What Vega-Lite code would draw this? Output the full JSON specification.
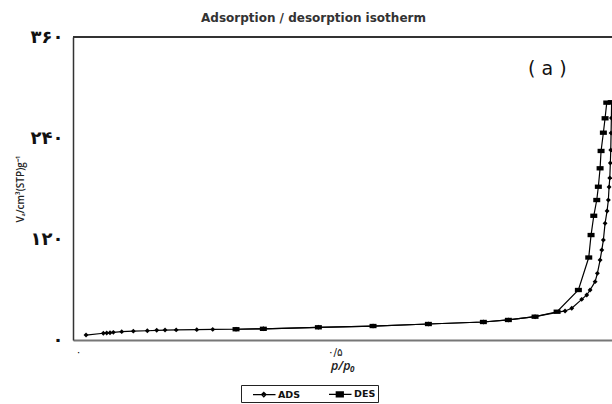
{
  "$schema": "https://vega.github.io/schema/vega-lite/v6.json",
  "width": 539,
  "height": 303,
  "autosize": {"type": "none"},
  "padding": {"left": 73, "top": 37, "right": 0, "bottom": 64},
  "background": "white",
  "title": {"text": "Adsorption / desorption isotherm", "font": "DejaVu Sans", "fontSize": 12, "fontWeight": "bold", "color": "#333", "offset": 3, "dx": -29},
  "config": {"view": {"stroke": null}},
  "data": {"values": [
    {"s": "ADS", "i": 1, "p": 0.0154, "v": 5.9},
    {"s": "ADS", "i": 2, "p": 0.0491, "v": 8.0},
    {"s": "ADS", "i": 3, "p": 0.0557, "v": 8.4},
    {"s": "ADS", "i": 4, "p": 0.0621, "v": 8.7},
    {"s": "ADS", "i": 5, "p": 0.0686, "v": 9.1},
    {"s": "ADS", "i": 6, "p": 0.0849, "v": 9.9},
    {"s": "ADS", "i": 7, "p": 0.1075, "v": 10.5},
    {"s": "ADS", "i": 8, "p": 0.1348, "v": 11.0},
    {"s": "ADS", "i": 9, "p": 0.1531, "v": 11.5},
    {"s": "ADS", "i": 10, "p": 0.1693, "v": 11.8},
    {"s": "ADS", "i": 11, "p": 0.1910, "v": 12.0},
    {"s": "ADS", "i": 12, "p": 0.2311, "v": 12.3},
    {"s": "ADS", "i": 13, "p": 0.2622, "v": 12.6},
    {"s": "ADS", "i": 14, "p": 0.3076, "v": 12.8},
    {"s": "ADS", "i": 15, "p": 0.3608, "v": 13.3},
    {"s": "ADS", "i": 16, "p": 0.4680, "v": 15.1},
    {"s": "ADS", "i": 17, "p": 0.5745, "v": 16.6},
    {"s": "ADS", "i": 18, "p": 0.6823, "v": 19.0},
    {"s": "ADS", "i": 19, "p": 0.7894, "v": 21.4},
    {"s": "ADS", "i": 20, "p": 0.8381, "v": 23.8},
    {"s": "ADS", "i": 21, "p": 0.8901, "v": 27.7},
    {"s": "ADS", "i": 22, "p": 0.9486, "v": 34.5},
    {"s": "ADS", "i": 23, "p": 0.9616, "v": 37.7},
    {"s": "ADS", "i": 24, "p": 0.9810, "v": 48.3},
    {"s": "ADS", "i": 25, "p": 0.9908, "v": 53.5},
    {"s": "ADS", "i": 26, "p": 0.9973, "v": 59.4},
    {"s": "ADS", "i": 27, "p": 1.0071, "v": 69.3},
    {"s": "ADS", "i": 28, "p": 1.0115, "v": 79.2},
    {"s": "ADS", "i": 29, "p": 1.0168, "v": 95.0},
    {"s": "ADS", "i": 30, "p": 1.0201, "v": 106.9},
    {"s": "ADS", "i": 31, "p": 1.0232, "v": 118.8},
    {"s": "ADS", "i": 32, "p": 1.0265, "v": 138.6},
    {"s": "ADS", "i": 33, "p": 1.0304, "v": 153.3},
    {"s": "ADS", "i": 34, "p": 1.0329, "v": 166.3},
    {"s": "ADS", "i": 35, "p": 1.0343, "v": 181.8},
    {"s": "ADS", "i": 36, "p": 1.0357, "v": 192.5},
    {"s": "ADS", "i": 37, "p": 1.0368, "v": 210.3},
    {"s": "ADS", "i": 38, "p": 1.0376, "v": 225.7},
    {"s": "ADS", "i": 39, "p": 1.0382, "v": 245.9},
    {"s": "ADS", "i": 40, "p": 1.0388, "v": 263.8},
    {"s": "ADS", "i": 41, "p": 1.0392, "v": 281.6},
    {"s": "DES", "i": 1, "p": 1.0385, "v": 282.5},
    {"s": "DES", "i": 2, "p": 1.0298, "v": 282.0},
    {"s": "DES", "i": 3, "p": 1.0265, "v": 263.4},
    {"s": "DES", "i": 4, "p": 1.0232, "v": 246.3},
    {"s": "DES", "i": 5, "p": 1.0187, "v": 224.6},
    {"s": "DES", "i": 6, "p": 1.0168, "v": 204.0},
    {"s": "DES", "i": 7, "p": 1.0134, "v": 182.1},
    {"s": "DES", "i": 8, "p": 1.0103, "v": 166.3},
    {"s": "DES", "i": 9, "p": 1.0045, "v": 147.6},
    {"s": "DES", "i": 10, "p": 0.9992, "v": 124.7},
    {"s": "DES", "i": 11, "p": 0.9947, "v": 98.0},
    {"s": "DES", "i": 12, "p": 0.9745, "v": 59.4},
    {"s": "DES", "i": 13, "p": 0.9330, "v": 33.6},
    {"s": "DES", "i": 14, "p": 0.8901, "v": 27.7},
    {"s": "DES", "i": 15, "p": 0.8381, "v": 23.8},
    {"s": "DES", "i": 16, "p": 0.7894, "v": 21.4},
    {"s": "DES", "i": 17, "p": 0.6823, "v": 19.0},
    {"s": "DES", "i": 18, "p": 0.5745, "v": 16.6},
    {"s": "DES", "i": 19, "p": 0.4680, "v": 15.1},
    {"s": "DES", "i": 20, "p": 0.3608, "v": 13.3},
    {"s": "DES", "i": 21, "p": 0.3076, "v": 12.8}
  ]},
  "encoding": {
    "x": {"field": "p", "type": "quantitative", "scale": {"domain": [-0.01, 1.04], "nice": false, "zero": false},
      "axis": {"values": [0, 0.5], "labelExpr": "datum.value == 0 ? '۰' : '۰/۵'", "grid": false, "ticks": false,
        "domain": true, "domainColor": "#777", "domainWidth": 2,
        "labelFont": "DejaVu Sans", "labelFontSize": 10.5, "labelColor": "#111", "labelPadding": 7,
        "title": "p/p₀", "titleFont": "Open Sans", "titleFontStyle": "italic", "titleFontWeight": 600, "titleFontSize": 12.5, "titleColor": "#222", "titlePadding": 2}},
    "y": {"field": "v", "type": "quantitative", "scale": {"domain": [0, 360], "nice": false},
      "axis": {"values": [0, 120, 240, 360], "labelExpr": "datum.value == 360 ? '۳۶۰' : datum.value == 240 ? '۲۴۰' : datum.value == 120 ? '۱۲۰' : '۰'",
        "grid": false, "ticks": false, "domain": true, "domainColor": "#333", "domainWidth": 1.5,
        "labelFont": "DejaVu Sans", "labelFontSize": 18, "labelFontWeight": "bold", "labelColor": "#111", "labelPadding": 10,
        "title": "Vₐ/cm³(STP)g⁻¹", "titleFont": "Open Sans", "titleFontSize": 10, "titleFontWeight": 600, "titleColor": "#222", "titlePadding": 5}}
  },
  "layer": [
    {"mark": {"type": "rule", "color": "#333", "strokeWidth": 1.5},
     "encoding": {"y": {"datum": 360}, "x": {"datum": -0.01}, "x2": {"datum": 1.04}}},
    {"mark": {"type": "line", "color": "black", "strokeWidth": 1.2},
     "encoding": {"detail": {"field": "s"}, "order": {"field": "i", "type": "quantitative"}}},
    {"mark": {"type": "point", "filled": true, "color": "black", "opacity": 1, "size": 49},
     "encoding": {"shape": {"field": "s", "type": "nominal", "legend": null,
       "scale": {"domain": ["ADS", "DES"], "range": ["M0,-0.7L0.7,0L0,0.7L-0.7,0Z", "M-1,-0.62H1V0.62H-1Z"]}}}},
    {"mark": {"type": "point", "filled": false, "color": "black", "strokeWidth": 1.3, "opacity": 0},
     "encoding": {"shape": {"field": "s", "type": "nominal",
       "scale": {"domain": ["ADS", "DES"], "range": ["M0.5,0H4.25M2.3,-0.37L2.67,0L2.3,0.37L1.93,0Z", "M0.5,0H4.25M1.72,-0.42H2.88V0.42H1.72ZM1.72,-0.21H2.88M1.72,0.21H2.88"]},
       "legend": {"title": null, "orient": "none", "legendX": 168, "legendY": 348, "direction": "horizontal",
         "symbolSize": 144, "symbolStrokeColor": "black", "symbolStrokeWidth": 1.3, "symbolOpacity": 1,
         "labelFont": "DejaVu Sans", "labelFontSize": 9.5, "labelFontWeight": "bold", "labelColor": "#111", "labelOffset": 21,
         "columnPadding": 18, "strokeColor": "#222", "padding": 2, "fillColor": "white"}}}},
    {"data": {"values": [{"p": 0.914, "v": 322, "label": "( a )"}]},
     "mark": {"type": "text", "font": "DejaVu Sans", "fontSize": 19, "color": "#111"},
     "encoding": {"text": {"field": "label"}}}
  ],
  "resolve": {"scale": {"shape": "independent"}}
}
